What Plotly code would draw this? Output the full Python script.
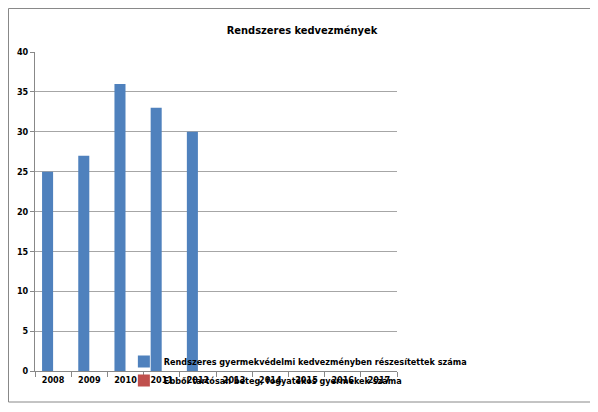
import plotly.graph_objects as go

years = ['2008', '2009', '2010', '2011', '2012', '2013', '2014', '2015', '2016', '2017']
rendszeres = [25, 27, 36, 33, 30, None, None, None, None, None]
tartosan_beteg = [None, None, None, None, None, None, None, None, None, None]

font_name = 'DejaVu Sans Condensed, Liberation Sans Narrow, sans-serif'

fig = go.Figure()
fig.add_trace(go.Bar(x=years, y=rendszeres, name='Rendszeres gyermekvédelmi kedvezményben részesítettek száma',
                     marker=dict(color='#4F81BD', line=dict(width=0))))
fig.add_trace(go.Bar(x=years, y=tartosan_beteg, name='Ebből tartósan beteg, fogyatékos gyermekek száma',
                     marker=dict(color='#C0504D', line=dict(width=0))))

# page has an 8px body margin, so the layout is shifted up/left by 8px
fig.update_layout(
    width=598, height=412,
    margin=dict(l=27, r=209, t=44, b=49),
    paper_bgcolor='white', plot_bgcolor='white',
    barmode='group', bargap=0.39, bargroupgap=0,
    font=dict(family=font_name, size=10, color='black'),
    title=dict(text='<b>Rendszeres kedvezmények</b>', font=dict(size=11),
               x=0.7376, xref='paper', xanchor='center', y=0.9466, yref='container', yanchor='middle'),
    xaxis=dict(showline=True, linecolor='#888888', linewidth=1, ticks='outside', tickson='boundaries',
               ticklen=5, tickcolor='#888888', showgrid=False, automargin=False,
               tickfont=dict(family=font_name, size=9, weight='bold')),
    yaxis=dict(range=[0, 40], dtick=5, showline=True, linecolor='#888888', linewidth=1,
               ticks='outside', ticklen=4, tickcolor='#888888', automargin=False,
               showgrid=True, gridcolor='#a6a6a6', gridwidth=1, zeroline=False,
               tickfont=dict(family=font_name, size=9, weight='bold')),
    legend=dict(x=0.2455, y=0.0, xanchor='left', yanchor='middle', bgcolor='rgba(0,0,0,0)',
                font=dict(family=font_name, size=9, weight='bold'), tracegroupgap=0,
                itemwidth=30),
    showlegend=True,
    shapes=[dict(type='rect', xref='paper', yref='paper', x0=-0.0732, x1=1.5525, y0=-0.0972, y1=1.1364,
                 line=dict(color='#888888', width=1), fillcolor='rgba(0,0,0,0)', layer='below')],
)

fig.write_html("out.html")
